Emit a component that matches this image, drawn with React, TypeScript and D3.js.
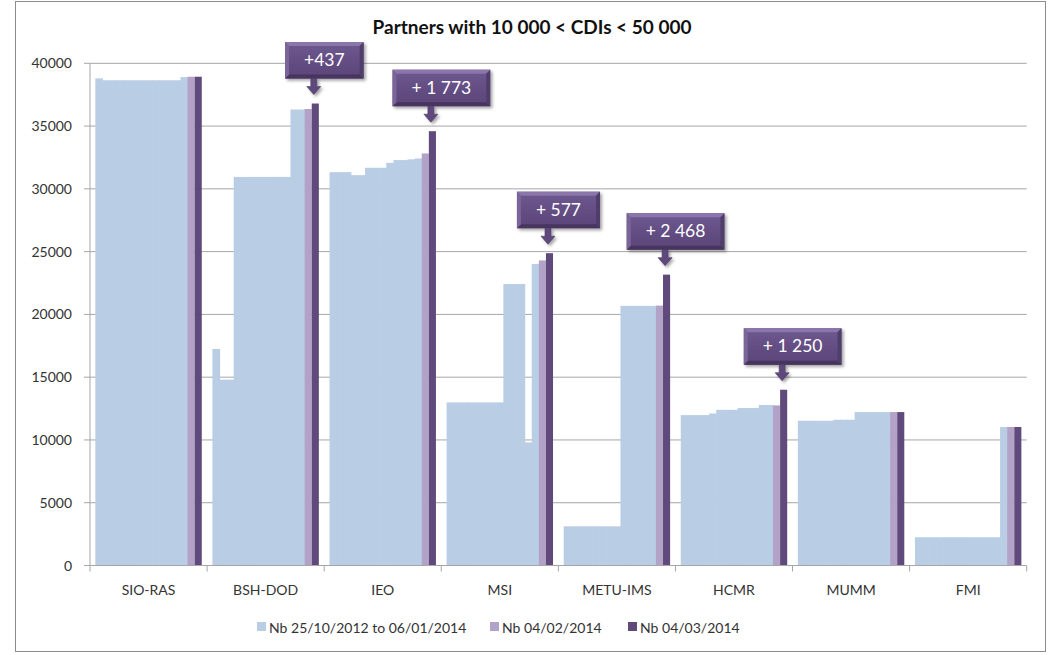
import React, { useEffect, useRef } from 'react';
import * as d3 from 'd3';

// categories (partners)
const categories = ['SIO-RAS', 'BSH-DOD', 'IEO', 'MSI', 'METU-IMS', 'HCMR', 'MUMM', 'FMI'];

// 13 snapshots between 25/10/2012 and 06/01/2014, one row per partner
const periodValues: number[][] = [
  [38800, 38650, 38650, 38650, 38650, 38650, 38650, 38650, 38650, 38650, 38650, 38650, 38900],
  [17250, 14800, 14800, 30950, 30950, 30950, 30950, 30950, 30950, 30950, 30950, 36320, 36320],
  [31330, 31330, 31330, 31090, 31090, 31680, 31680, 31680, 32070, 32290, 32290, 32350, 32420],
  [12990, 12990, 12990, 12990, 12990, 12990, 12990, 12990, 22420, 22420, 22420, 9800, 24020],
  [3120, 3120, 3120, 3120, 3120, 3120, 3120, 3120, 20680, 20680, 20680, 20680, 20680],
  [11980, 11980, 11980, 11980, 12110, 12400, 12400, 12400, 12540, 12540, 12540, 12780, 12780],
  [11530, 11530, 11530, 11530, 11530, 11610, 11610, 11610, 12220, 12220, 12220, 12220, 12220],
  [2250, 2250, 2250, 2250, 2250, 2250, 2250, 2250, 2250, 2250, 2250, 2250, 11030],
];

const feb2014 = [38930, 36360, 32820, 24300, 20700, 12750, 12220, 11030];
const mar2014 = [38930, 36797, 34593, 24877, 23168, 14000, 12220, 11030];

const yTicks = [0, 5000, 10000, 15000, 20000, 25000, 30000, 35000, 40000];

const legendLabels = ['Nb 25/10/2012 to 06/01/2014', 'Nb 04/02/2014', 'Nb 04/03/2014'];

const callouts = [
  { category: 'BSH-DOD', label: '+437' },
  { category: 'IEO', label: '+ 1 773' },
  { category: 'MSI', label: '+ 577' },
  { category: 'METU-IMS', label: '+ 2 468' },
  { category: 'HCMR', label: '+ 1 250' },
];

const colors = ['#B9CDE5', '#B3A2C7', '#604A7B'];
const FONT = 'Lato, "Open Sans", sans-serif';

const App: React.FC = () => {
  const svgRef = useRef<SVGSVGElement | null>(null);

  useEffect(() => {
    const svg = d3.select(svgRef.current);
    svg.selectAll('*').remove();

    const left = 90;
    const right = 1026.7;
    const bottom = 565.5;
    const top = 63.3;

    const x = d3.scaleBand<string>().domain(categories).range([left, right]);
    const nSeries = periodValues[0].length + 2;
    const xs = d3.scaleBand<number>().domain(d3.range(nSeries)).range([0, x.bandwidth()]).paddingOuter(0.75);
    const y = d3.scaleLinear().domain([0, 40000]).range([bottom, top]);

    // outer border
    svg.append('rect')
      .attr('x', 15.5).attr('y', 1.5).attr('width', 1030).attr('height', 650)
      .attr('fill', 'white').attr('stroke', '#8c8c8c');

    // gridlines
    svg.append('g').selectAll('line')
      .data(yTicks.filter(t => t > 0))
      .join('line')
      .attr('x1', left).attr('x2', right)
      .attr('y1', d => y(d)).attr('y2', d => y(d))
      .attr('stroke', '#a6a6a6').attr('stroke-width', 1);

    // y axis
    svg.append('line').attr('x1', left).attr('x2', left).attr('y1', top).attr('y2', bottom)
      .attr('stroke', '#a6a6a6');
    svg.append('g').selectAll('line')
      .data(yTicks)
      .join('line')
      .attr('x1', left - 6).attr('x2', left)
      .attr('y1', d => y(d)).attr('y2', d => y(d))
      .attr('stroke', '#a6a6a6');
    svg.append('g').selectAll('text')
      .data(yTicks)
      .join('text')
      .attr('x', 72).attr('y', d => y(d) + 5)
      .attr('text-anchor', 'end')
      .attr('font-family', FONT).attr('font-size', 14).attr('fill', '#333')
      .text(d => String(d));

    // bars
    const barG = svg.append('g');
    categories.forEach((cat, ci) => {
      const x0 = x(cat) as number;
      periodValues[ci].forEach((v, si) => {
        barG.append('rect')
          .attr('x', x0 + (xs(si) as number))
          .attr('y', y(v))
          .attr('width', xs.bandwidth() + 0.6)
          .attr('height', bottom - y(v))
          .attr('fill', colors[0]);
      });
      [feb2014[ci], mar2014[ci]].forEach((v, k) => {
        barG.append('rect')
          .attr('x', x0 + (xs(nSeries - 2 + k) as number))
          .attr('y', y(v))
          .attr('width', xs.bandwidth())
          .attr('height', bottom - y(v))
          .attr('fill', colors[1 + k]);
      });
    });

    // x axis
    svg.append('line').attr('x1', left).attr('x2', right).attr('y1', bottom).attr('y2', bottom)
      .attr('stroke', '#a6a6a6');
    const bounds = categories.map(c => x(c) as number).concat([right]);
    svg.append('g').selectAll('line')
      .data(bounds)
      .join('line')
      .attr('x1', d => d).attr('x2', d => d)
      .attr('y1', bottom).attr('y2', bottom + 6)
      .attr('stroke', '#a6a6a6');
    svg.append('g').selectAll('text')
      .data(categories)
      .join('text')
      .attr('x', d => (x(d) as number) + x.bandwidth() / 2)
      .attr('y', 595)
      .attr('text-anchor', 'middle')
      .attr('font-family', FONT).attr('font-size', 14).attr('fill', '#333')
      .text(d => d);

    // title
    svg.append('text')
      .attr('x', 532).attr('y', 34)
      .attr('text-anchor', 'middle')
      .attr('font-family', FONT).attr('font-size', 19).attr('font-weight', 'bold').attr('fill', '#111')
      .text('Partners with 10 000 < CDIs < 50 000');

    // legend
    const legendX = [257, 490, 628];
    legendLabels.forEach((lab, i) => {
      svg.append('rect')
        .attr('x', legendX[i]).attr('y', 622).attr('width', 9).attr('height', 9)
        .attr('fill', colors[i]);
      svg.append('text')
        .attr('x', legendX[i] + 12).attr('y', 632.5)
        .attr('font-family', FONT).attr('font-size', 14).attr('fill', '#333')
        .text(lab);
    });

    // callouts
    const defs = svg.append('defs');
    const grad = defs.append('linearGradient').attr('id', 'calloutFill')
      .attr('x1', 0).attr('x2', 0).attr('y1', 0).attr('y2', 1);
    grad.append('stop').attr('offset', '0%').attr('stop-color', '#6e5891');
    grad.append('stop').attr('offset', '100%').attr('stop-color', '#5a4577');
    const shadow = defs.append('filter').attr('id', 'calloutShadow')
      .attr('x', '-20%').attr('y', '-20%').attr('width', '150%').attr('height', '160%');
    shadow.append('feDropShadow').attr('dx', 2).attr('dy', 2).attr('stdDeviation', 1.5)
      .attr('flood-color', '#000').attr('flood-opacity', 0.35);

    callouts.forEach(c => {
      const ci = categories.indexOf(c.category);
      const barCx = (x(c.category) as number) + (xs(nSeries - 1) as number) + xs.bandwidth() / 2;
      const tipY = y(mar2014[ci]) - 9;
      const ax = barCx - 1.5;
      const boxH = 36.5;
      const boxBottom = tipY - 16;
      const boxTop = boxBottom - boxH;
      const g = svg.append('g').attr('filter', 'url(#calloutShadow)');

      const txt = svg.append('text')
        .attr('font-family', FONT).attr('font-size', 17.5).attr('fill', 'white')
        .attr('text-anchor', 'middle')
        .text(c.label);
      const tw = (txt.node() as SVGTextElement).getComputedTextLength();
      const boxW = tw + 38;
      const cx = barCx + 9;
      const bx = cx - boxW / 2;

      // arrow
      g.append('path')
        .attr('d', `M${ax - 3},${boxBottom} L${ax + 3},${boxBottom} L${ax + 3},${tipY - 8} L${ax + 7},${tipY - 8} L${ax},${tipY} L${ax - 7},${tipY - 8} L${ax - 3},${tipY - 8} Z`)
        .attr('fill', '#5f4a7c').attr('stroke', '#4b3a63').attr('stroke-width', 0.6);

      // bevelled box
      g.append('rect').attr('x', bx).attr('y', boxTop).attr('width', boxW).attr('height', boxH)
        .attr('fill', 'url(#calloutFill)');
      const b = 4;
      g.append('path')
        .attr('d', `M${bx},${boxTop} L${bx + boxW},${boxTop} L${bx + boxW - b},${boxTop + b} L${bx + b},${boxTop + b} Z`)
        .attr('fill', '#8a76aa');
      g.append('path')
        .attr('d', `M${bx},${boxTop + boxH} L${bx + boxW},${boxTop + boxH} L${bx + boxW - b},${boxTop + boxH - b} L${bx + b},${boxTop + boxH - b} Z`)
        .attr('fill', '#46355e');
      g.append('path')
        .attr('d', `M${bx},${boxTop} L${bx + b},${boxTop + b} L${bx + b},${boxTop + boxH - b} L${bx},${boxTop + boxH} Z`)
        .attr('fill', '#7a6598');
      g.append('path')
        .attr('d', `M${bx + boxW},${boxTop} L${bx + boxW - b},${boxTop + b} L${bx + boxW - b},${boxTop + boxH - b} L${bx + boxW},${boxTop + boxH} Z`)
        .attr('fill', '#503e6b');

      txt.attr('x', cx).attr('y', boxTop + boxH / 2 + 6).raise();
    });
  }, []);

  return (
    <div style={{ position: 'absolute', left: 0, top: 0 }}>
      <svg ref={svgRef} width="1049" height="655" style={{ display: 'block' }} />
    </div>
  );
};

export default App;
